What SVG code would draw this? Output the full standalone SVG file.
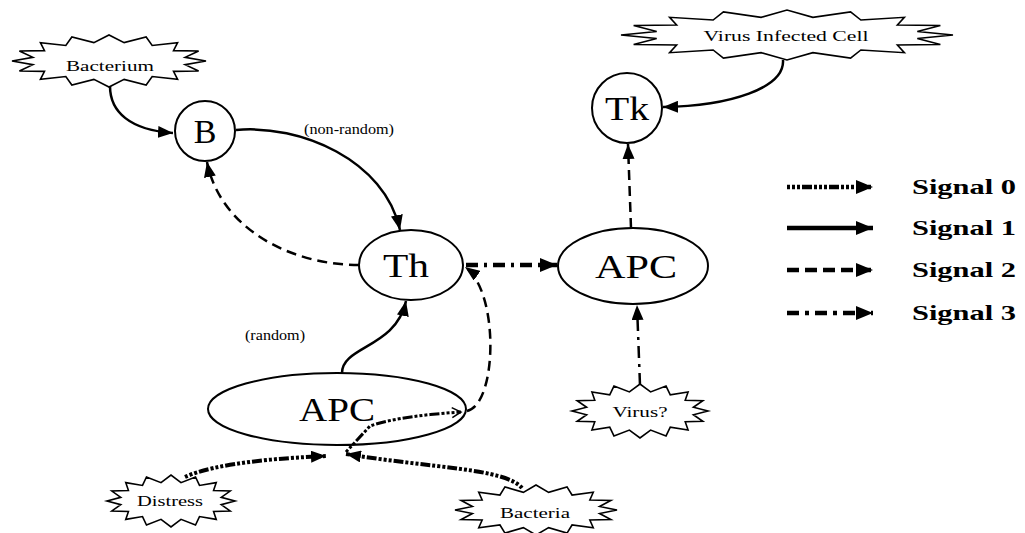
<svg xmlns="http://www.w3.org/2000/svg" xmlns:xlink="http://www.w3.org/1999/xlink" width="1025" height="533" viewBox="0 0 1025 533">
  <style>
    .node { fill: #fff; stroke: #000; stroke-width: 2; }
    .burst { fill: #fff; stroke: #000; stroke-width: 1.6; stroke-linejoin: miter; }
    .big { font-family: "Liberation Serif", "Times New Roman", serif; font-size: 34px; fill: #000; text-anchor: middle; }
    .small { font-family: "Liberation Serif", "Times New Roman", serif; font-size: 15px; fill: #000; text-anchor: middle; }
    .legend { font-family: "Liberation Serif", "Times New Roman", serif; font-size: 21px; font-weight: bold; fill: #000; }
    .edge { fill: none; stroke: #000; stroke-linecap: butt; }
    .s0 { stroke-width: 4; stroke-dasharray: 3 2 3 2 3 2 10 2; }
    .s1 { stroke-width: 2.5; }
    .s2 { stroke-width: 2.5; stroke-dasharray: 10 6; }
    .s3 { stroke-width: 2.5; stroke-dasharray: 12 6 3 6; }
    .thick { stroke-width: 4.5; }
  </style>
  <defs>
    <!-- unit starburst outline, scaled per node -->
    <path id="burst-shape" class="burst" vector-effect="non-scaling-stroke"
      d="M1,0 L.785,.14 L.924,.383 L.665,.4 L.707,.707 L.445,.599 L.383,.924 L.156,.706 L0,1 L-.156,.706 L-.383,.924 L-.445,.599 L-.707,.707 L-.665,.4 L-.924,.383 L-.785,.14 L-1,0 L-.785,-.14 L-.924,-.383 L-.665,-.4 L-.707,-.707 L-.445,-.599 L-.383,-.924 L-.156,-.706 L0,-1 L.156,-.706 L.383,-.924 L.445,-.599 L.707,-.707 L.665,-.4 L.924,-.383 L.785,-.14 Z"/>
    <marker id="arrow" markerUnits="userSpaceOnUse" markerWidth="16" markerHeight="12" refX="15" refY="6" orient="auto">
      <path d="M0,0 L15,6 L0,12 Z" fill="#000"/>
    </marker>
    <marker id="arrow-big" markerUnits="userSpaceOnUse" markerWidth="18" markerHeight="14" refX="17" refY="7" orient="auto">
      <path d="M0,0 L17,7 L0,14 Z" fill="#000"/>
    </marker>
    <marker id="chevron" markerUnits="userSpaceOnUse" markerWidth="12" markerHeight="12" refX="10" refY="6" orient="auto">
      <path d="M1,1 L10,6 L1,11" fill="none" stroke="#000" stroke-width="1.5"/>
    </marker>
  </defs>

  <!-- nodes -->
  <g id="bacterium">
    <use xlink:href="#burst-shape" transform="translate(109,61) scale(97,26)"/>
    <text class="small" x="110" y="71" textLength="88" lengthAdjust="spacingAndGlyphs">Bacterium</text>
  </g>
  <g id="virus-infected-cell">
    <use xlink:href="#burst-shape" transform="translate(787,35) scale(166,25)"/>
    <text class="small" x="786" y="41" textLength="165" lengthAdjust="spacingAndGlyphs">Virus Infected Cell</text>
  </g>
  <g id="virus">
    <use xlink:href="#burst-shape" transform="translate(640,411) scale(68,27)"/>
    <text class="small" x="640" y="417" textLength="55" lengthAdjust="spacingAndGlyphs">Virus?</text>
  </g>
  <g id="distress">
    <use xlink:href="#burst-shape" transform="translate(171,501) scale(64,26)"/>
    <text class="small" x="170" y="506" textLength="66" lengthAdjust="spacingAndGlyphs">Distress</text>
  </g>
  <g id="bacteria">
    <use xlink:href="#burst-shape" transform="translate(536,510) scale(81,25)"/>
    <text class="small" x="535" y="518" textLength="70" lengthAdjust="spacingAndGlyphs">Bacteria</text>
  </g>

  <g id="B">
    <circle class="node" cx="205" cy="131" r="30"/>
    <text class="big" x="205" y="143">B</text>
  </g>
  <g id="Tk">
    <circle class="node" cx="627" cy="108" r="35"/>
    <text class="big" x="627" y="120" textLength="44" lengthAdjust="spacingAndGlyphs">Tk</text>
  </g>
  <g id="Th">
    <ellipse class="node" cx="411" cy="265" rx="52" ry="35"/>
    <text class="big" x="406" y="277" textLength="46" lengthAdjust="spacingAndGlyphs">Th</text>
  </g>
  <g id="APC-top">
    <ellipse class="node" cx="633" cy="266" rx="75" ry="38"/>
    <text class="big" x="636" y="278" textLength="82" lengthAdjust="spacingAndGlyphs">APC</text>
  </g>
  <g id="APC-bottom">
    <ellipse class="node" cx="337" cy="409" rx="129" ry="36"/>
    <text class="big" x="337" y="421" textLength="76" lengthAdjust="spacingAndGlyphs">APC</text>
  </g>

  <!-- connectors -->
  <g id="connectors">
    <path class="edge s1" d="M110,86 C 110,112 130,130 173,133" marker-end="url(#arrow)"/>
    <path class="edge s1" d="M236,130 C 300,124 385,160 400,230" marker-end="url(#arrow)"/>
    <path class="edge s2" d="M359,265 C 290,265 220,228 207,162" marker-end="url(#arrow)"/>
    <path class="edge s1" d="M342,373 C 342,346 396,348 406,301" marker-end="url(#arrow)"/>
    <path class="edge s3 thick" d="M466,265 L557,265" marker-end="url(#arrow-big)"/>
    <path class="edge s2" d="M467,411 C 497,405 500,292 465,267" marker-end="url(#arrow)"/>
    <path class="edge s0" style="stroke-width:3" d="M346,452 L370,426 C 392,418 430,414 461,412" marker-end="url(#chevron)"/>
    <path class="edge s0" d="M185,477 C 215,463 280,458 326,456" marker-end="url(#arrow)"/>
    <path class="edge s0" d="M522,488 C 505,468 430,468 346,454" marker-end="url(#arrow)"/>
    <path class="edge s2" d="M631,228 L628,144" marker-end="url(#arrow)"/>
    <path class="edge s3" d="M640,385 L637,305" marker-end="url(#arrow)"/>
    <path class="edge s1" d="M783,60 C 785,88 730,106 663,107" marker-end="url(#arrow)"/>
  </g>

  <!-- edge labels -->
  <text class="small" x="349" y="134" textLength="90" lengthAdjust="spacingAndGlyphs">(non-random)</text>
  <text class="small" x="275" y="340" textLength="60" lengthAdjust="spacingAndGlyphs">(random)</text>

  <!-- legend -->
  <g id="legend">
    <path class="edge s0 thick" d="M787,187 L873,187" marker-end="url(#arrow-big)"/>
    <path class="edge s1 thick" d="M787,228 L873,228" marker-end="url(#arrow-big)"/>
    <path class="edge s2 thick" style="stroke-dasharray:12 6" d="M787,270 L873,270" marker-end="url(#arrow-big)"/>
    <path class="edge s3 thick" style="stroke-dasharray:12 6 4 6" d="M787,313 L873,313" marker-end="url(#arrow-big)"/>
    <text class="legend" x="912" y="194" textLength="104" lengthAdjust="spacingAndGlyphs">Signal 0</text>
    <text class="legend" x="912" y="235" textLength="104" lengthAdjust="spacingAndGlyphs">Signal 1</text>
    <text class="legend" x="912" y="277" textLength="104" lengthAdjust="spacingAndGlyphs">Signal 2</text>
    <text class="legend" x="912" y="320" textLength="104" lengthAdjust="spacingAndGlyphs">Signal 3</text>
  </g>
</svg>
